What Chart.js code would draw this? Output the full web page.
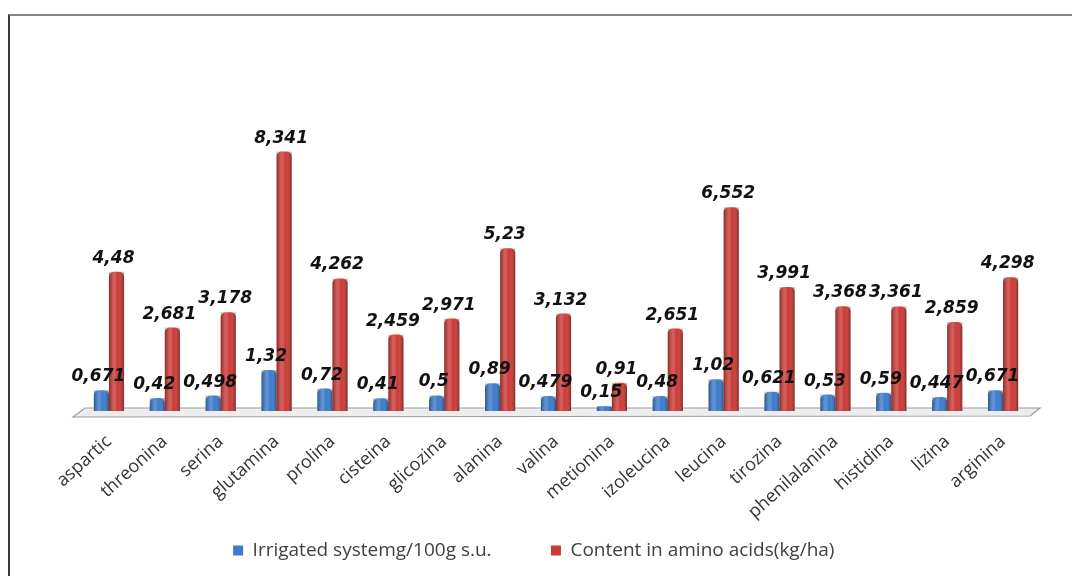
<!DOCTYPE html>
<html>
<head>
<meta charset="utf-8">
<script src="https://cdn.jsdelivr.net/npm/chart.js"></script>
<style>
  html, body { margin: 0; padding: 0; background: #fff; }
  #wrap { position: relative; width: 1072px; height: 576px; }
  #frame { position: absolute; left: 8px; top: 14px; right: 0; bottom: 0;
           border-left: 2px solid #3a3a3a; border-top: 2px solid #858585; pointer-events: none; }
</style>
</head>
<body>
<div id="wrap">
  <canvas id="myChart" width="1072" height="576"></canvas>
  <div id="frame"></div>
</div>
<script>
const categories = ["aspartic", "threonina", "serina", "glutamina", "prolina", "cisteina", "glicozina",
    "alanina", "valina", "metionina", "izoleucina", "leucina", "tirozina", "phenilalanina",
    "histidina", "lizina", "arginina"];
const irrigated = [0.671, 0.42, 0.498, 1.32, 0.72, 0.41, 0.5, 0.89, 0.479, 0.15, 0.48, 1.02, 0.621, 0.53, 0.59, 0.447, 0.671];
const content = [4.48, 2.681, 3.178, 8.341, 4.262, 2.459, 2.971, 5.23, 3.132, 0.91, 2.651, 6.552, 3.991, 3.368, 3.361, 2.859, 4.298];
const seriesNames = ["Irrigated systemg/100g s.u.", "Content in amino acids(kg/ha)"];
const seriesColors = ["#3d7bcb", "#cc3a36"];

const myChartCanvas = document.getElementById("myChart");

// 바닥판 (3D floor)
const floorPlugin = {
    id: "floor",
    beforeDatasetsDraw(chart) {
        const {ctx, chartArea: a} = chart;
        const b = a.bottom;
        ctx.save();
        ctx.beginPath();
        ctx.moveTo(a.left - 8, b + 6);
        ctx.lineTo(a.left + 4, b - 3);
        ctx.lineTo(a.right + 9, b - 3);
        ctx.lineTo(a.right - 1, b + 5);
        ctx.closePath();
        ctx.fillStyle = "#ededed";
        ctx.fill();
        ctx.strokeStyle = "#9c9c9c";
        ctx.lineWidth = 1.2;
        ctx.stroke();
        ctx.restore();
    }
};

// cylinder shading + value labels
const barDecor = {
    id: "barDecor",
    afterDatasetsDraw(chart) {
        const ctx = chart.ctx;
        ctx.save();
        chart.data.datasets.forEach((ds, di) => {
            const meta = chart.getDatasetMeta(di);
            meta.data.forEach((bar) => {
                const x0 = bar.x - bar.width / 2, x1 = bar.x + bar.width / 2;
                const g = ctx.createLinearGradient(x0, 0, x1, 0);
                g.addColorStop(0, "rgba(0,0,0,0.3)");
                g.addColorStop(0.35, "rgba(255,255,255,0.2)");
                g.addColorStop(0.6, "rgba(255,255,255,0.0)");
                g.addColorStop(1, "rgba(0,0,0,0.35)");
                ctx.fillStyle = g;
                ctx.fillRect(x0, bar.y, bar.width, bar.base - bar.y);
            });
        });
        ctx.font = "italic bold 17px 'DejaVu Sans'";
        ctx.fillStyle = "#111";
        ctx.textAlign = "center";
        ctx.textBaseline = "alphabetic";
        chart.data.datasets.forEach((ds, di) => {
            const meta = chart.getDatasetMeta(di);
            meta.data.forEach((bar, i) => {
                const txt = String(ds.data[i]).replace(".", ",");
                ctx.fillText(txt, bar.x - 3, bar.y - 9);
            });
        });
        ctx.restore();
    }
};

const config = {
    type: "bar",
    data: {
        labels: categories,
        datasets: [
            { label: seriesNames[0], data: irrigated, backgroundColor: seriesColors[0],
              borderRadius: {topLeft: 5, topRight: 5}, borderSkipped: "bottom" },
            { label: seriesNames[1], data: content, backgroundColor: seriesColors[1],
              borderRadius: {topLeft: 5, topRight: 5}, borderSkipped: "bottom" }
        ]
    },
    options: {
        responsive: false,
        animation: false,
        layout: { padding: { left: 81, right: 41, top: 100, bottom: 6 } },
        datasets: { bar: { categoryPercentage: 0.54, barPercentage: 1.0 } },
        scales: {
            x: {
                grid: { display: false },
                border: { display: false },
                ticks: {
                    minRotation: 42, maxRotation: 42,
                    padding: 12,
                    color: "#333",
                    font: { family: "'Open Sans'", size: 18 }
                },
                afterFit: (s) => { s.height = 120; }
            },
            y: { display: false, min: 0, max: 10 }
        },
        plugins: {
            legend: {
                position: "bottom",
                labels: {
                    boxWidth: 10, boxHeight: 10, padding: 10,
                    color: "#404040",
                    font: { family: "'Open Sans'", size: 19 },
                    generateLabels: (chart) => {
                        const items = Chart.defaults.plugins.legend.labels.generateLabels(chart);
                        // 간격 맞추기 (spacing like the original)
                        items[0].text += "          ";
                        items[1].text += "         ";
                        items.forEach((it) => { it.strokeStyle = "transparent"; it.lineWidth = 0; });
                        return items;
                    }
                }
            },
            tooltip: { enabled: false }
        }
    },
    plugins: [floorPlugin, barDecor]
};

const myChart = new Chart(myChartCanvas, config);
</script>
</body>
</html>
